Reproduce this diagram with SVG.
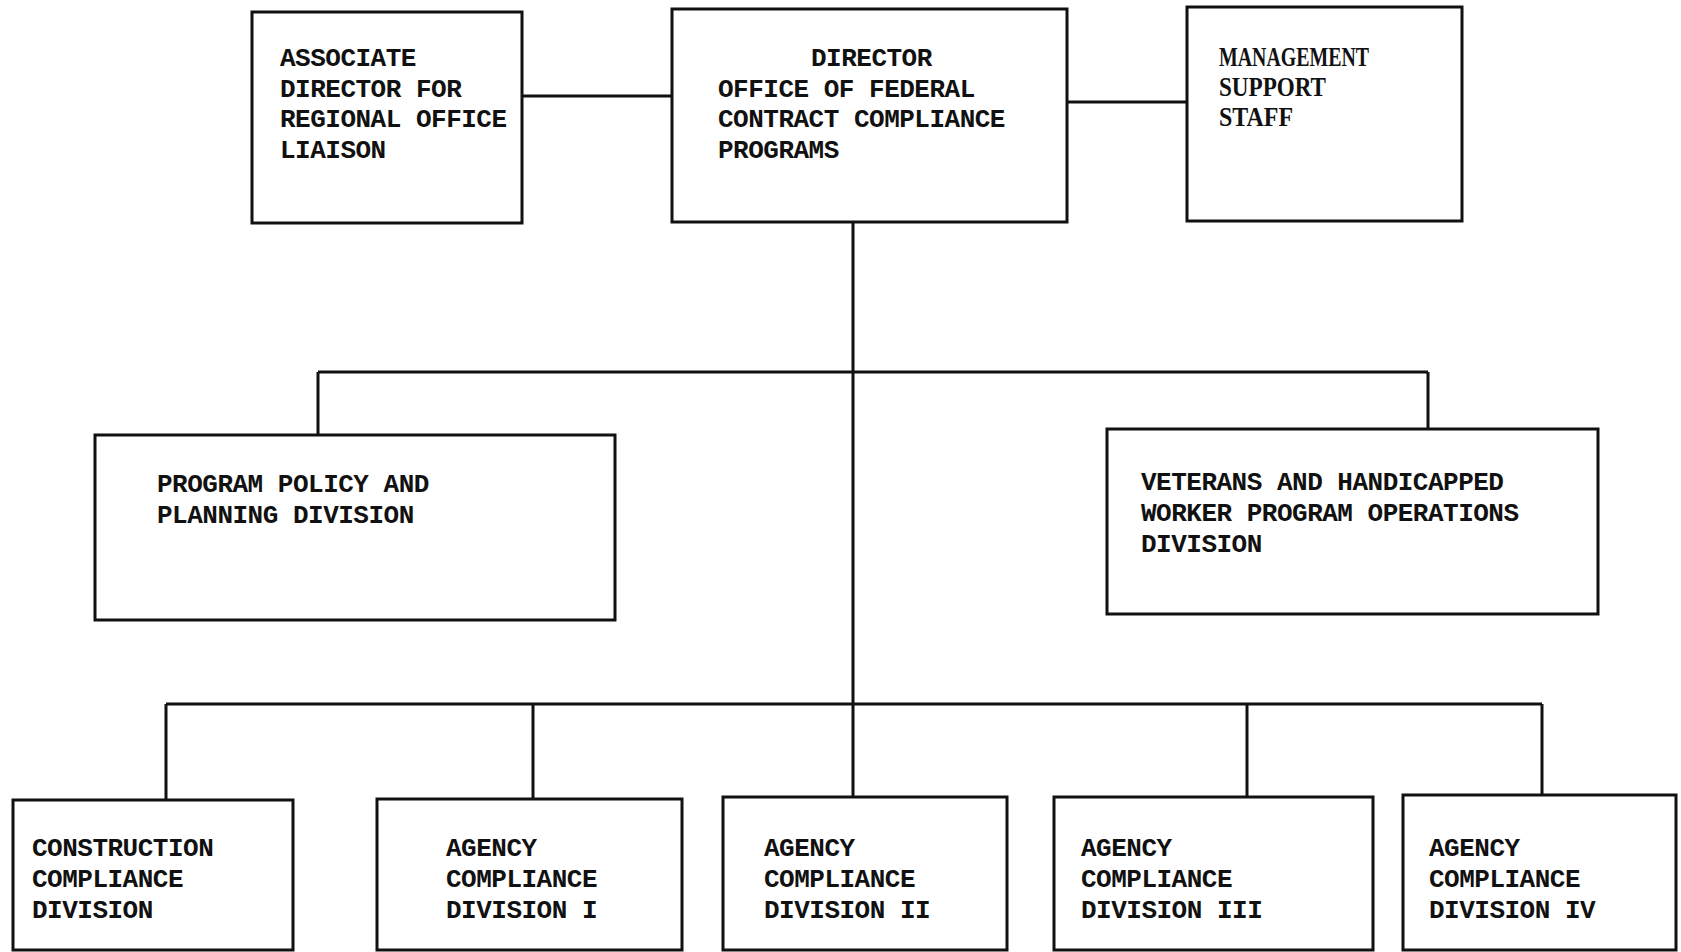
<svg xmlns="http://www.w3.org/2000/svg" width="1681" height="952" viewBox="0 0 1681 952">
<style>
.box{fill:none;stroke:#111;stroke-width:3}
.ln{stroke:#111;stroke-width:3;fill:none}
.t{font-family:"Liberation Mono",monospace;font-size:26px;font-weight:bold;fill:#111;letter-spacing:-0.5px}
.s{font-family:"Liberation Serif",serif;font-size:27px;font-weight:bold;fill:#111}
</style>
<rect width="1681" height="952" fill="#fff"/>
<g id="connectors">
<line class="ln" x1="522" y1="96" x2="672" y2="96"/>
<line class="ln" x1="1067" y1="102" x2="1187" y2="102"/>
<line class="ln" x1="853" y1="222" x2="853" y2="797"/>
<line class="ln" x1="318" y1="372" x2="1428" y2="372"/>
<line class="ln" x1="318" y1="372" x2="318" y2="435"/>
<line class="ln" x1="1428" y1="372" x2="1428" y2="429"/>
<line class="ln" x1="166" y1="704" x2="1542" y2="704"/>
<line class="ln" x1="166" y1="704" x2="166" y2="800"/>
<line class="ln" x1="533" y1="704" x2="533" y2="799"/>
<line class="ln" x1="1247" y1="704" x2="1247" y2="797"/>
<line class="ln" x1="1542" y1="704" x2="1542" y2="795"/>
</g>
<g id="associate">
<rect class="box" x="252" y="12" width="270" height="211"/>
<text class="t" x="280" y="66">ASSOCIATE</text>
<text class="t" x="280" y="97">DIRECTOR FOR</text>
<text class="t" x="280" y="127">REGIONAL OFFICE</text>
<text class="t" x="280" y="158">LIAISON</text>
</g>
<g id="director">
<rect class="box" x="672" y="9" width="395" height="213"/>
<text class="t" x="811" y="66">DIRECTOR</text>
<text class="t" x="718" y="97">OFFICE OF FEDERAL</text>
<text class="t" x="718" y="127">CONTRACT COMPLIANCE</text>
<text class="t" x="718" y="158">PROGRAMS</text>
</g>
<g id="management">
<rect class="box" x="1187" y="7" width="275" height="214"/>
<text class="s" x="1219" y="66" textLength="150" lengthAdjust="spacingAndGlyphs">MANAGEMENT</text>
<text class="s" x="1219" y="96" textLength="107" lengthAdjust="spacingAndGlyphs">SUPPORT</text>
<text class="s" x="1219" y="126" textLength="74" lengthAdjust="spacingAndGlyphs">STAFF</text>
</g>
<g id="policy">
<rect class="box" x="95" y="435" width="520" height="185"/>
<text class="t" x="157" y="492">PROGRAM POLICY AND</text>
<text class="t" x="157" y="523">PLANNING DIVISION</text>
</g>
<g id="veterans">
<rect class="box" x="1107" y="429" width="491" height="185"/>
<text class="t" x="1141" y="490">VETERANS AND HANDICAPPED</text>
<text class="t" x="1141" y="521">WORKER PROGRAM OPERATIONS</text>
<text class="t" x="1141" y="552">DIVISION</text>
</g>
<g id="construction">
<rect class="box" x="13" y="800" width="280" height="150"/>
<text class="t" x="32" y="856">CONSTRUCTION</text>
<text class="t" x="32" y="887">COMPLIANCE</text>
<text class="t" x="32" y="918">DIVISION</text>
</g>
<g id="agency1">
<rect class="box" x="377" y="799" width="305" height="151"/>
<text class="t" x="446" y="856">AGENCY</text>
<text class="t" x="446" y="887">COMPLIANCE</text>
<text class="t" x="446" y="918">DIVISION I</text>
</g>
<g id="agency2">
<rect class="box" x="723" y="797" width="284" height="153"/>
<text class="t" x="764" y="856">AGENCY</text>
<text class="t" x="764" y="887">COMPLIANCE</text>
<text class="t" x="764" y="918">DIVISION II</text>
</g>
<g id="agency3">
<rect class="box" x="1054" y="797" width="319" height="153"/>
<text class="t" x="1081" y="856">AGENCY</text>
<text class="t" x="1081" y="887">COMPLIANCE</text>
<text class="t" x="1081" y="918">DIVISION III</text>
</g>
<g id="agency4">
<rect class="box" x="1403" y="795" width="273" height="155"/>
<text class="t" x="1429" y="856">AGENCY</text>
<text class="t" x="1429" y="887">COMPLIANCE</text>
<text class="t" x="1429" y="918">DIVISION IV</text>
</g>
</svg>
